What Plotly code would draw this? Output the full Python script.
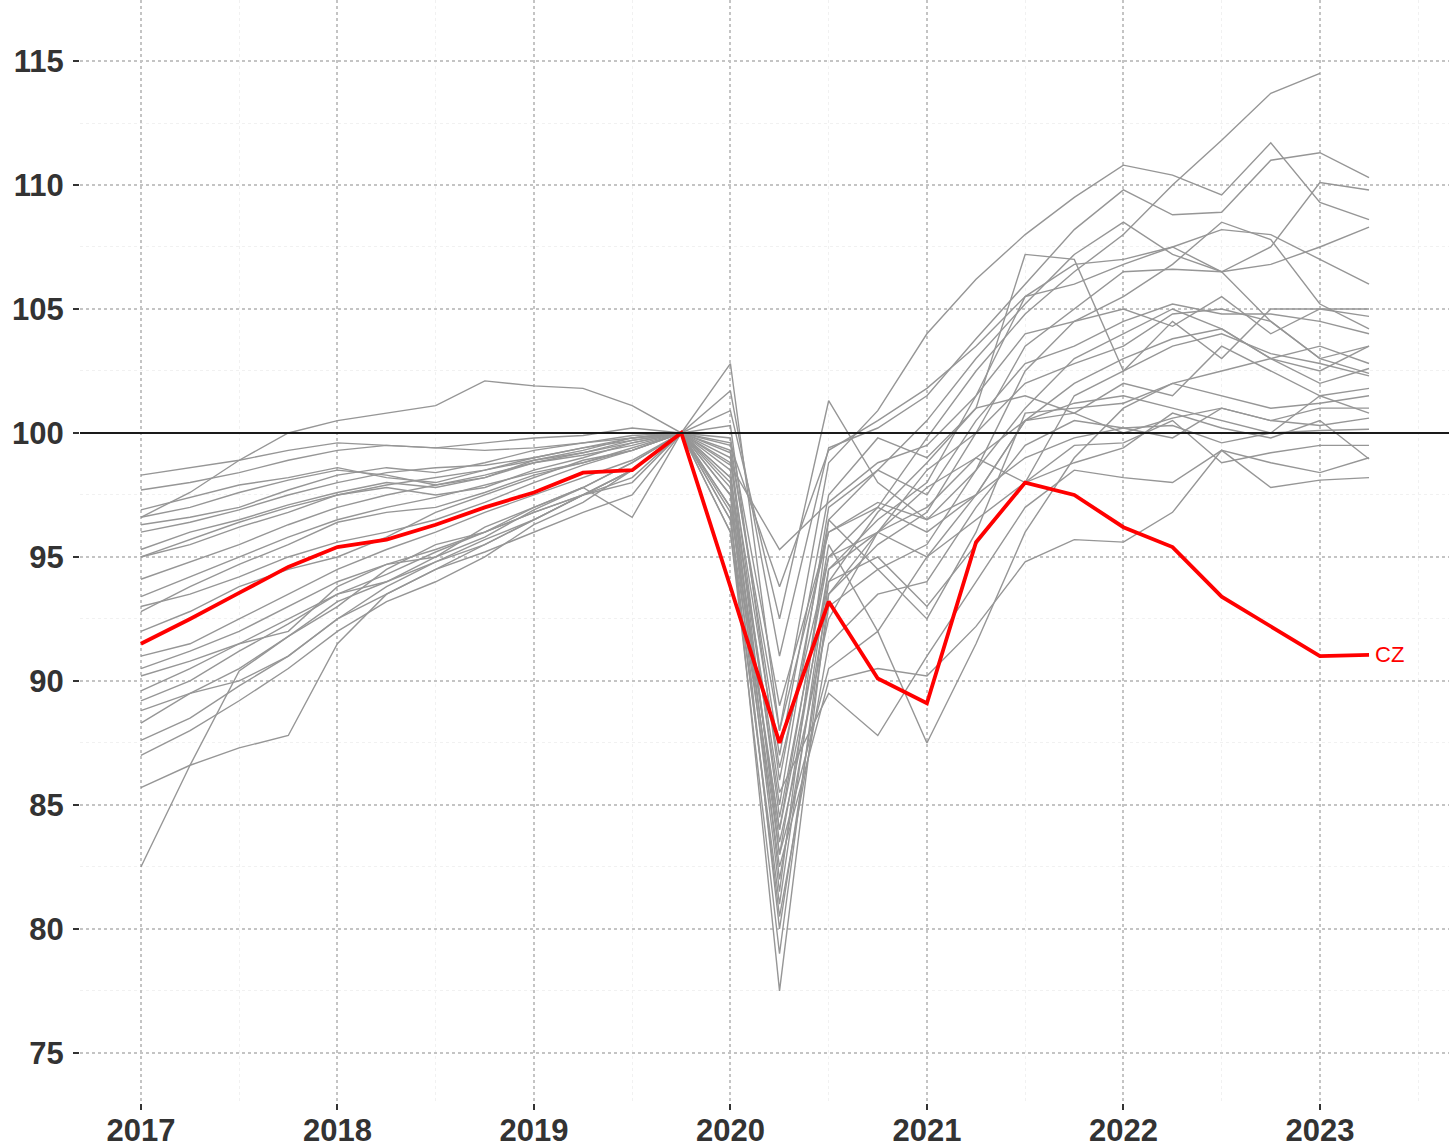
import plotly.graph_objects as go

quarters = [2017.0, 2017.25, 2017.5, 2017.75, 2018.0, 2018.25, 2018.5, 2018.75,
            2019.0, 2019.25, 2019.5, 2019.75, 2020.0, 2020.25, 2020.5, 2020.75,
            2021.0, 2021.25, 2021.5, 2021.75, 2022.0, 2022.25, 2022.5, 2022.75,
            2023.0, 2023.25]

cz = [91.5, 92.5, 93.55, 94.6, 95.4, 95.7, 96.3, 97.0, 97.6, 98.4, 98.5, 100.0,
      93.8, 87.5, 93.2, 90.1, 89.1, 95.6, 98.0, 97.5, 96.2, 95.4, 93.4, 92.2,
      91.0, 91.05]

g01 = [95.0, 95.7, 96.4, 97.0, 97.5, 97.9, 98.2, 98.5, 98.9, 99.2, 99.6, 100, 99.2, 84.5, 95.0, 97.0, 99.8, 102.5, 104.8, 106.5, 108.0, 110.0, 111.8, 113.7, 114.5, None]
g02 = [97.7, 98.0, 98.4, 98.9, 99.3, 99.5, 99.4, 99.6, 99.8, 99.9, 100.2, 100, 102.8, 88.0, 98.8, 100.9, 104.0, 106.2, 108.0, 109.5, 110.8, 110.4, 109.6, 111.7, 109.3, 108.6]
g03 = [96.3, 96.6, 97.0, 97.7, 98.3, 98.6, 98.4, 98.8, 99.3, 99.6, 99.9, 100, 101.7, 91.0, 99.4, 100.2, 101.5, 103.8, 106.0, 108.2, 109.8, 108.8, 108.9, 111.0, 111.3, 110.3]
g04 = [95.3, 96.0, 96.5, 97.1, 97.6, 98.0, 97.8, 98.2, 98.9, 99.3, 99.8, 100, 100.3, 86.0, 96.5, 98.5, 100.5, 103.0, 105.2, 107.2, 108.5, 107.2, 106.5, 107.5, 110.1, 109.8]
g05 = [98.3, 98.6, 98.9, 99.3, 99.6, 99.5, 99.4, 99.3, 99.4, 99.6, 99.8, 100, 99.0, 83.0, 94.5, 96.5, 98.0, 101.5, 105.5, 106.8, 107.0, 107.5, 108.2, 108.0, 107.0, 106.0]
g06 = [94.1, 94.8, 95.5, 96.3, 97.0, 97.5, 97.9, 98.3, 98.8, 99.1, 99.5, 100, 98.5, 82.0, 93.5, 95.5, 96.8, 100.0, 103.5, 105.0, 106.5, 106.6, 106.5, 106.8, 107.5, 108.3]
g07 = [96.9, 97.4, 97.9, 98.2, 98.6, 98.2, 98.0, 98.5, 99.0, 99.4, 99.7, 100, 99.6, 87.0, 97.5, 99.8, 99.0, 101.0, 107.2, 107.0, 102.5, 104.5, 103.0, 105.0, 105.0, 104.7]
g08 = [92.8, 93.8, 94.7, 95.5, 96.4, 96.8, 97.0, 97.6, 98.3, 98.8, 99.3, 100, 97.5, 80.0, 93.0, 94.5, 95.5, 98.5, 102.5, 104.5, 105.5, 106.8, 108.5, 107.8, 105.2, 104.2]
g09 = [95.0, 95.5, 96.2, 96.8, 97.5, 97.8, 97.5, 97.8, 98.5, 99.0, 99.6, 100, 98.2, 85.0, 97.0, 98.5, 97.5, 100.5, 102.8, 103.5, 104.5, 105.2, 104.8, 104.8, 104.5, 104.0]
g10 = [96.6, 97.6, 98.9, 100.0, 100.5, 100.8, 101.1, 102.1, 101.9, 101.8, 101.1, 100, 99.8, 89.0, 96.0, 97.2, 96.5, 98.5, 101.0, 103.0, 104.0, 105.0, 104.2, 103.0, 102.5, 103.5]
g11 = [89.6, 90.5, 91.5, 92.5, 93.5, 94.3, 95.2, 96.0, 97.0, 97.8, 98.8, 100, 97.0, 84.0, 95.5, 92.0, 95.0, 97.5, 100.5, 102.0, 103.0, 103.8, 104.2, 103.0, 102.0, 102.6]
g12 = [93.0, 93.5, 94.2, 95.0, 95.6, 96.0, 96.5, 97.2, 98.0, 98.7, 99.3, 100, 98.8, 86.5, 95.0, 96.0, 95.0, 96.5, 98.0, 101.5, 102.5, 103.5, 104.0, 103.2, 102.8, 102.3]
g13 = [88.3, 89.5, 90.5, 91.8, 93.0, 94.5, 95.5, 96.0, 96.8, 97.5, 98.5, 100, 96.0, 79.0, 94.0, 96.8, 98.8, 101.0, 101.5, 100.8, 102.0, 101.5, 103.5, 102.5, 101.5, 101.8]
g14 = [90.5, 91.2, 92.0, 93.0, 94.0, 94.7, 95.0, 95.8, 96.9, 97.8, 96.6, 100, 97.8, 81.5, 96.5, 94.5, 92.5, 96.0, 100.8, 101.0, 101.2, 102.0, 101.5, 101.0, 101.2, 101.5]
g15 = [91.0, 91.5, 92.5, 93.5, 94.5, 95.3, 96.0, 96.8, 97.5, 98.2, 98.9, 100, 98.0, 83.5, 92.5, 96.0, 97.0, 99.0, 100.5, 100.8, 100.0, 100.6, 101.0, 100.5, 101.0, 101.0]
g16 = [87.0, 88.0, 89.2, 90.5, 92.0, 93.2, 94.0, 95.0, 96.3, 97.2, 98.5, 100, 96.5, 80.5, 91.5, 93.5, 94.0, 97.0, 99.5, 100.5, 100.2, 99.8, 101.0, 100.5, 100.3, 100.6]
g17 = [92.0, 92.8, 93.8, 94.5, 95.0, 95.8, 96.8, 97.5, 98.2, 98.9, 99.3, 100, 99.3, 88.0, 96.0, 97.0, 96.0, 97.5, 99.0, 99.8, 100.2, 100.3, 99.6, 100.0, 100.1, 100.15]
g18 = [85.7, 86.6, 87.3, 87.8, 91.5, 93.5, 94.5, 95.5, 96.5, 97.5, 98.5, 100, 97.5, 84.0, 94.0, 95.0, 93.0, 95.5, 98.0, 99.5, 99.6, 100.5, 98.8, 99.2, 99.5, 99.5]
g19 = [82.5, 86.6, 90.4, 91.8, 93.2, 94.0, 95.0, 96.2, 97.0, 97.8, 98.8, 100, 96.8, 77.5, 93.5, 96.0, 97.8, 99.0, 98.0, 98.8, 99.4, 100.8, 100.2, 99.8, 100.5, 98.95]
g20 = [89.2, 90.0, 91.2, 92.3, 93.5, 94.0, 94.8, 95.7, 96.5, 97.5, 98.0, 100, 96.5, 82.5, 90.0, 90.5, 90.2, 92.2, 94.8, 95.7, 95.6, 96.8, 99.3, 97.8, 98.1, 98.2]
g21 = [88.8, 89.5, 90.0, 91.0, 92.5, 93.5, 94.5, 95.2, 96.0, 96.8, 97.5, 100, 98.2, 85.5, 89.5, 87.8, 91.0, 94.0, 97.0, 98.5, 98.2, 98.0, 99.3, 98.8, 98.4, 99.0]
g22 = [90.2, 90.8, 91.5, 92.0, 93.8, 94.7, 95.3, 96.0, 96.8, 97.5, 98.5, 100, 97.0, 83.0, 90.5, 92.0, 87.5, 91.5, 96.0, 99.0, 101.0, 102.0, 102.5, 103.0, 103.5, 102.8]
g23 = [96.0, 96.4, 96.9, 97.5, 98.0, 98.4, 98.6, 98.7, 99.0, 99.4, 99.8, 100, 100.9, 92.5, 101.3, 98.0, 96.5, 97.5, 100.5, 101.2, 101.5, 101.0, 100.5, 100.0, 101.5, 100.8]
g24 = [93.4, 94.2, 95.0, 95.8, 96.5, 97.0, 97.4, 97.9, 98.4, 98.8, 99.4, 100, 98.7, 95.3, 97.2, 98.8, 99.5, 101.5, 104.0, 104.5, 105.0, 104.3, 105.5, 104.0, 105.0, 105.0]
g25 = [96.6, 97.0, 97.6, 98.1, 98.5, 98.3, 97.9, 98.2, 98.8, 99.2, 99.7, 100, 99.5, 93.8, 99.3, 100.5, 101.8, 103.5, 105.5, 106.0, 106.8, 107.5, 106.5, 104.5, 103.0, 103.5]
g26 = [87.6, 88.5, 89.8, 91.0, 92.5, 93.8, 94.8, 95.5, 96.5, 97.5, 98.2, 100, 96.0, 81.0, 94.5, 96.0, 98.5, 100.0, 102.0, 102.8, 103.5, 104.8, 105.0, 104.5, 103.0, 102.4]

gray_series = [g01, g02, g03, g04, g05, g06, g07, g08, g09, g10, g11, g12, g13,
               g14, g15, g16, g17, g18, g19, g20, g21, g22, g23, g24, g25, g26]

x_ticks = [2017, 2018, 2019, 2020, 2021, 2022, 2023]
x_tick_labels = ["2017", "2018", "2019", "2020", "2021", "2022", "2023"]
y_ticks = [75, 80, 85, 90, 95, 100, 105, 110, 115]
y_tick_labels = ["75", "80", "85", "90", "95", "100", "105", "110", "115"]
reference_level = 100
highlight_label = "CZ"

fig = go.Figure()
for s in gray_series:
    fig.add_trace(go.Scatter(x=quarters, y=s, mode="lines",
                             line=dict(color="rgb(150,150,150)", width=1.4),
                             hoverinfo="skip", showlegend=False))

fig.add_hline(y=reference_level, line=dict(color="#1a1a1a", width=2))

fig.add_trace(go.Scatter(x=quarters, y=cz, mode="lines",
                         line=dict(color="#ff0000", width=3.8),
                         showlegend=False, name=highlight_label))

fig.add_annotation(x=quarters[-1], y=cz[-1], text=highlight_label,
                   showarrow=False, xanchor="left", yanchor="middle", xshift=4,
                   font=dict(family="Arial, Liberation Sans", size=22, color="#ff0000"))

tickfont = dict(family="Arial, Liberation Sans", size=31, color="#333333", weight="bold")

fig.update_layout(
    width=1449, height=1148,
    margin=dict(l=80, r=0, t=0, b=45, autoexpand=False),
    plot_bgcolor="white", paper_bgcolor="white",
    xaxis=dict(range=[2016.69, 2023.657], tickvals=x_ticks, ticktext=x_tick_labels,
               showgrid=True, gridcolor="#c4c4c4", griddash="dot", gridwidth=1.5,
               minor=dict(dtick=0.5, tick0=2016.5, showgrid=True, gridcolor="#f1f1f1", gridwidth=1),
               ticks="outside", ticklen=6, tickwidth=1.5, tickcolor="#333333",
               tickfont=tickfont, zeroline=False, showline=False, automargin=False,
               ticklabelstandoff=-6),
    yaxis=dict(range=[72.98, 117.46], tickvals=y_ticks, ticktext=y_tick_labels,
               showgrid=True, gridcolor="#c4c4c4", griddash="dot", gridwidth=1.5,
               minor=dict(dtick=2.5, tick0=72.5, showgrid=True, gridcolor="#f1f1f1", gridwidth=1),
               ticks="outside", ticklen=6, tickwidth=1.5, tickcolor="#333333",
               tickfont=tickfont, zeroline=False, showline=False, automargin=False,
               ticklabelstandoff=3),
)

fig.write_html("out.html", config={"displayModeBar": False},
               post_script="document.body.style.margin='0';document.body.style.overflow='hidden';")
